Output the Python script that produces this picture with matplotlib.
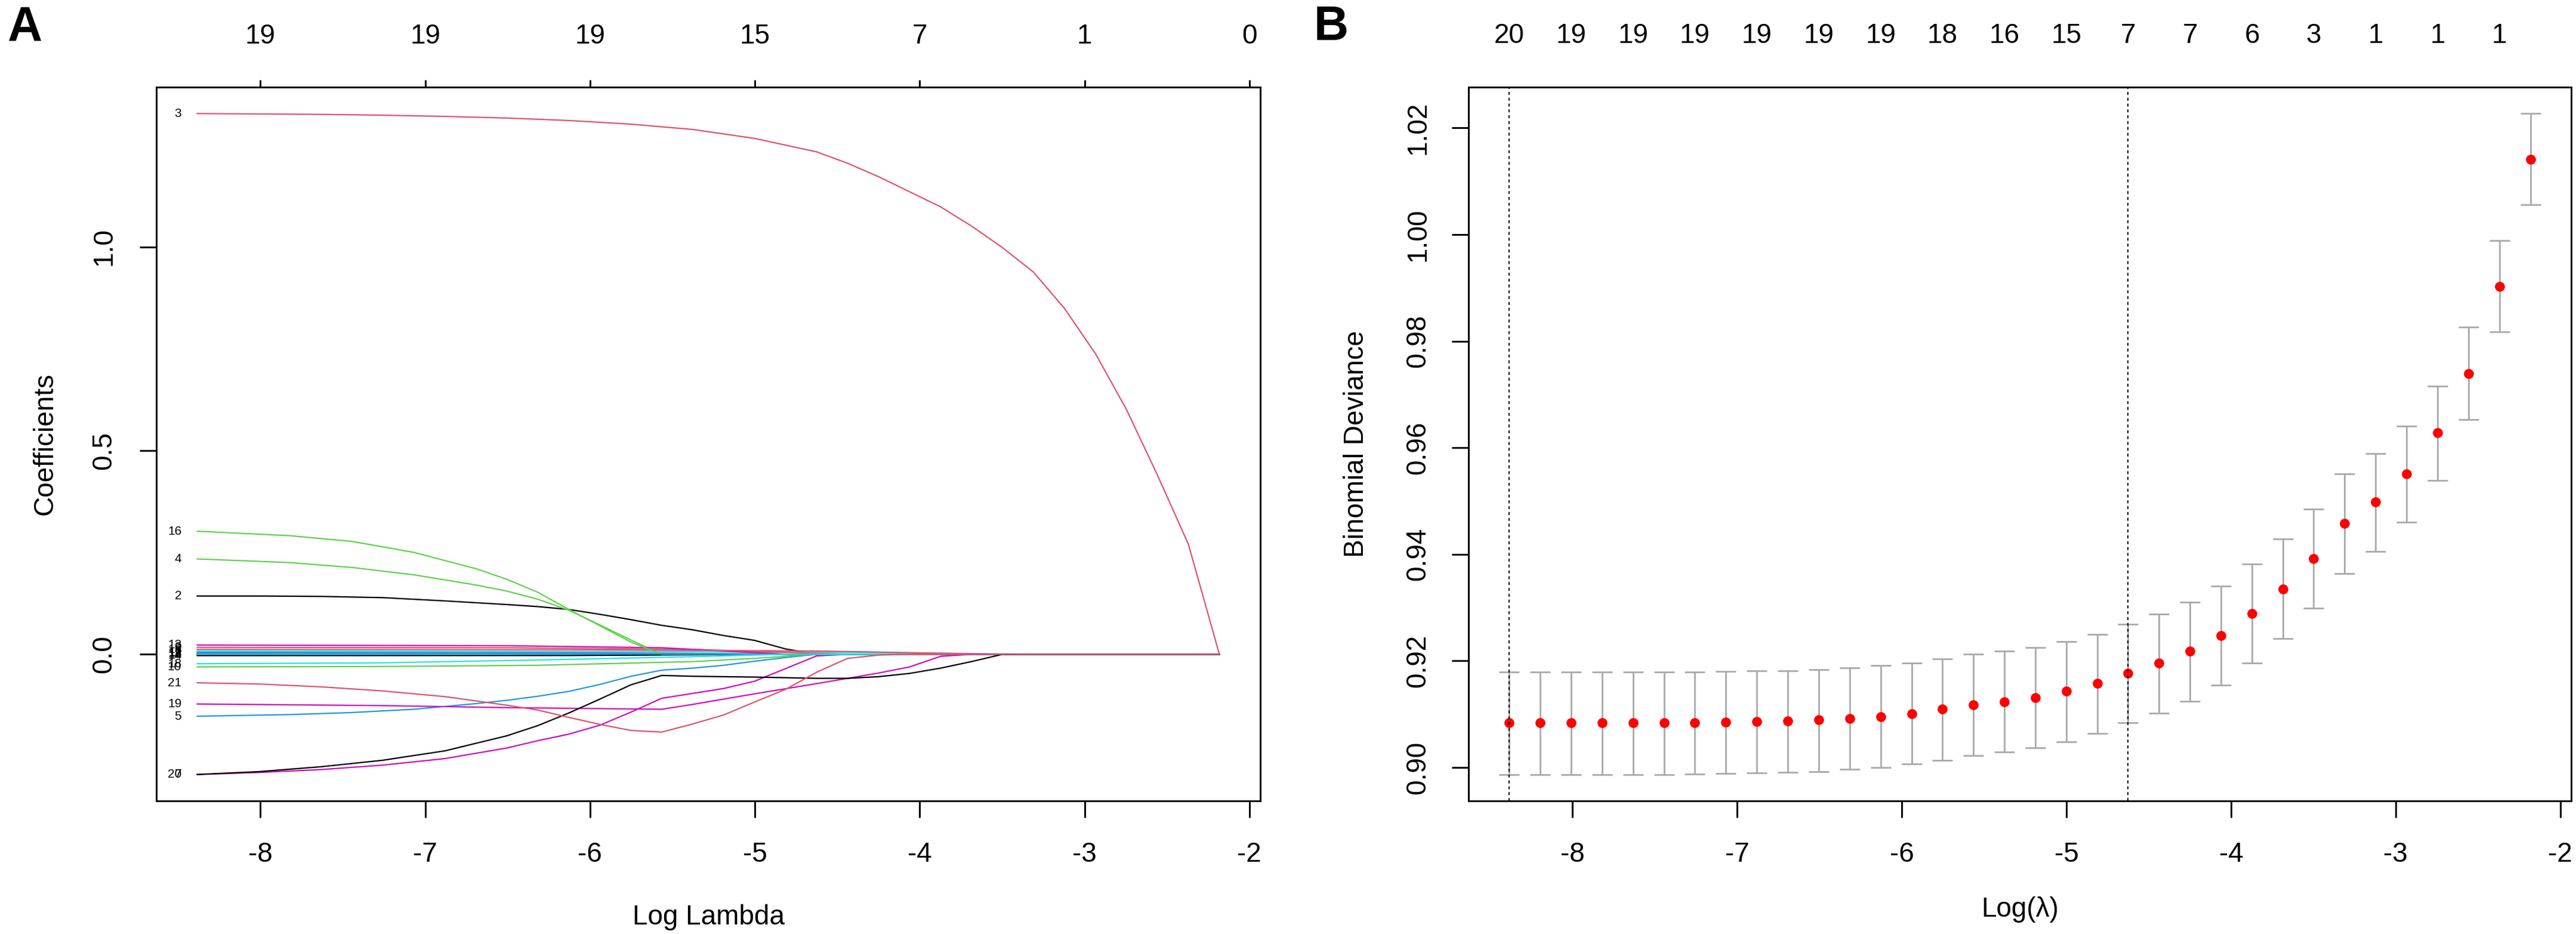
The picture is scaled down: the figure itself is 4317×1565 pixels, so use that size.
import matplotlib
matplotlib.use("Agg")
import matplotlib.pyplot as plt

plt.rcParams['font.family'] = ['Liberation Sans', 'DejaVu Sans']
plt.rcParams['axes.unicode_minus'] = False

# ---------------- data ----------------
log_lambda = [-8.383, -8.195, -8.007, -7.819, -7.631, -7.444, -7.256, -7.068,
              -6.880, -6.692, -6.504, -6.316, -6.128, -5.940, -5.752, -5.565,
              -5.377, -5.189, -5.001, -4.813, -4.625, -4.437, -4.249, -4.061,
              -3.873, -3.686, -3.498, -3.310, -3.122, -2.934, -2.746, -2.558,
              -2.370, -2.182]

cv_mean = [0.90836, 0.90836, 0.90836, 0.90836, 0.90836, 0.90836, 0.90845, 0.90854,
           0.90864, 0.90873, 0.90892, 0.90919, 0.90957, 0.91012, 0.91096, 0.91180,
           0.91235, 0.91310, 0.91430, 0.91579, 0.91765, 0.91960, 0.92183, 0.92480,
           0.92888, 0.93353, 0.93919, 0.94579, 0.94978, 0.95508, 0.96278, 0.97393,
           0.99028, 1.01414]
cv_upper = [0.91793, 0.91793, 0.91793, 0.91793, 0.91793, 0.91793, 0.91793, 0.91802,
            0.91811, 0.91820, 0.91839, 0.91876, 0.91913, 0.91960, 0.92043, 0.92127,
            0.92183, 0.92257, 0.92368, 0.92498, 0.92693, 0.92879, 0.93102, 0.93409,
            0.93817, 0.94291, 0.94848, 0.95508, 0.95888, 0.96409, 0.97161, 0.98266,
            0.99882, 1.02269]
cv_lower = [0.89870, 0.89870, 0.89870, 0.89870, 0.89870, 0.89870, 0.89879, 0.89889,
            0.89898, 0.89907, 0.89926, 0.89963, 0.90000, 0.90065, 0.90139, 0.90223,
            0.90297, 0.90372, 0.90483, 0.90641, 0.90836, 0.91022, 0.91245, 0.91551,
            0.91960, 0.92424, 0.92991, 0.93641, 0.94059, 0.94607, 0.95387, 0.96529,
            0.98173, 1.00560]

b_top_index = [0, 2, 4, 6, 8, 10, 12, 14, 16, 18, 20, 22, 24, 26, 28, 30, 32]
b_top_labels = ['20', '19', '19', '19', '19', '19', '19', '18', '16', '15',
                '7', '7', '6', '3', '1', '1', '1']
lambda_min_index = 0
lambda_1se_index = 20

x_ticks = [-8, -7, -6, -5, -4, -3, -2]
a_top_labels = ['19', '19', '19', '15', '7', '1', '0']
a_yticks = [0.0, 0.5, 1.0]
a_ytick_labels = ['0.0', '0.5', '1.0']
b_yticks = [0.90, 0.92, 0.94, 0.96, 0.98, 1.00, 1.02]
b_ytick_labels = ['0.90', '0.92', '0.94', '0.96', '0.98', '1.00', '1.02']

# coefficient paths: (lambda index, coefficient) vertices
path_v2 = [(0, 0.143), (2, 0.143), (4, 0.142), (6, 0.139), (8, 0.131), (10, 0.122),
           (11, 0.117), (12, 0.110), (13, 0.098), (14, 0.085), (15, 0.071), (16, 0.060),
           (17, 0.046), (18, 0.034), (19, 0.013), (20, 0.0), (33, 0.0)]
path_v3 = [(0, 1.327), (2, 1.326), (4, 1.325), (6, 1.323), (8, 1.320), (10, 1.316),
           (12, 1.310), (14, 1.301), (16, 1.288), (18, 1.266), (20, 1.233), (21, 1.205),
           (22, 1.172), (23, 1.135), (24, 1.098), (25, 1.051), (26, 0.998), (27, 0.938),
           (28, 0.849), (29, 0.738), (30, 0.601), (31, 0.440), (32, 0.270), (33, 0.0)]
path_v4 = [(0, 0.234), (3, 0.225), (5, 0.213), (7, 0.195), (9, 0.170), (10, 0.155),
           (11, 0.135), (12, 0.108), (13, 0.072), (14, 0.035), (15, 0.0), (33, 0.0)]
path_v5 = [(0, -0.152), (3, -0.148), (5, -0.143), (7, -0.135), (9, -0.121), (10, -0.113),
           (11, -0.103), (12, -0.091), (13, -0.074), (14, -0.054), (15, -0.039),
           (16, -0.034), (17, -0.027), (18, -0.017), (19, -0.008), (20, 0.0), (33, 0.0)]
path_v6 = [(0, 0.008), (10, 0.007), (16, 0.006), (22, 0.004), (27, 0.0), (33, 0.0)]
path_v7 = [(0, -0.295), (2, -0.290), (4, -0.283), (6, -0.272), (8, -0.256), (10, -0.230),
           (11, -0.212), (12, -0.196), (13, -0.174), (14, -0.142), (15, -0.108),
           (16, -0.096), (17, -0.084), (18, -0.066), (19, -0.035), (20, -0.004),
           (21, 0.0), (33, 0.0)]
path_v8 = [(0, 0.0007), (10, 0.0006), (16, 0.0), (33, 0.0)]
path_v9 = [(0, 0.017), (10, 0.016), (16, 0.012), (21, 0.0), (33, 0.0)]
path_v10 = [(0, -0.031), (6, -0.030), (11, -0.027), (16, -0.018), (18, -0.010),
            (20, 0.0), (33, 0.0)]
path_v11 = [(0, 0.0047), (12, 0.004), (20, 0.0), (33, 0.0)]
path_v12 = [(0, 0.0), (33, 0.0)]
path_v13 = [(0, 0.0227), (10, 0.021), (15, 0.016), (19, 0.0), (33, 0.0)]
path_v14 = [(0, -0.0032), (12, -0.003), (19, 0.0), (33, 0.0)]
path_v15 = [(0, 0.012), (12, 0.011), (20, 0.008), (26, 0.0), (33, 0.0)]
path_v16 = [(0, 0.302), (3, 0.291), (5, 0.277), (7, 0.250), (9, 0.210), (10, 0.184),
            (11, 0.152), (12, 0.110), (13, 0.070), (14, 0.030), (15, 0.0), (33, 0.0)]
path_v17 = [(0, 0.002), (10, 0.002), (18, 0.0), (33, 0.0)]
path_v18 = [(0, -0.0232), (6, -0.021), (11, -0.014), (16, -0.006), (19, 0.0), (33, 0.0)]
path_v19 = [(0, -0.122), (6, -0.126), (10, -0.131), (15, -0.135), (16, -0.123),
            (18, -0.097), (20, -0.072), (22, -0.046), (23, -0.031), (24, -0.005),
            (25, 0.0), (33, 0.0)]
path_v20 = [(0, -0.295), (2, -0.288), (4, -0.276), (6, -0.260), (8, -0.237), (10, -0.200),
            (11, -0.175), (12, -0.144), (13, -0.110), (14, -0.075), (15, -0.052),
            (16, -0.054), (18, -0.056), (20, -0.059), (21, -0.059), (22, -0.055),
            (23, -0.047), (24, -0.034), (25, -0.018), (26, 0.0), (33, 0.0)]
path_v21 = [(0, -0.070), (2, -0.073), (4, -0.080), (6, -0.090), (8, -0.104), (10, -0.125),
            (11, -0.137), (12, -0.155), (13, -0.172), (14, -0.187), (15, -0.191),
            (16, -0.171), (17, -0.149), (18, -0.117), (19, -0.086), (20, -0.044),
            (21, -0.010), (22, -0.002), (23, 0.0), (33, 0.0)]

paths = {2: path_v2, 3: path_v3, 4: path_v4, 5: path_v5, 6: path_v6, 7: path_v7,
         8: path_v8, 9: path_v9, 10: path_v10, 11: path_v11, 12: path_v12,
         13: path_v13, 14: path_v14, 15: path_v15, 16: path_v16, 17: path_v17,
         18: path_v18, 19: path_v19, 20: path_v20, 21: path_v21}

palette = ['#000000', '#DF536B', '#61D04F', '#2297E6', '#28E2E5', '#CD0BBC']

# ---------------- layout ----------------
W, H = 4317, 1565
fig = plt.figure(figsize=(W / 100, H / 100), dpi=100)
axA = fig.add_axes([262 / W, 1 - 1342 / H, 1850 / W, 1196 / H])
axB = fig.add_axes([2461 / W, 1 - 1342 / H, 1848 / W, 1196 / H])

FS = 33
SPW = 2.1


def r_range(lo, hi):
    r = hi - lo
    return lo - 0.04 * r, hi + 0.04 * r


xlim = r_range(min(log_lambda), max(log_lambda))

# ---------------- panel A ----------------
all_vals = [v for p in paths.values() for _, v in p]
for v in sorted(paths):
    pts = paths[v]
    xs = [log_lambda[i] for i, _ in pts]
    ys = [c for _, c in pts]
    axA.plot(xs, ys, color=palette[(v - 2) % 6], lw=1.6, solid_joinstyle='round')
for v in sorted(paths):
    pts = paths[v]
    axA.annotate(str(v), xy=(log_lambda[pts[0][0]], pts[0][1]), xytext=(-19, 0),
                 textcoords='offset points', ha='right', va='center', fontsize=15)

axA.set_xlim(*xlim)
axA.set_ylim(*r_range(min(all_vals), max(all_vals)))
axA.set_xticks(x_ticks)
axA.set_xticklabels([str(t) for t in x_ticks])
axA.set_yticks(a_yticks)
axA.set_yticklabels(a_ytick_labels, rotation=90, va='center')
axA.tick_params(axis='x', length=20, width=SPW, pad=29, labelsize=FS)
axA.tick_params(axis='y', length=20, width=SPW, pad=27, labelsize=FS)
secA = axA.secondary_xaxis('top')
secA.set_xticks(x_ticks, labels=a_top_labels)
secA.tick_params(length=8.6, width=SPW, pad=37, labelsize=FS)
secA.spines['top'].set_linewidth(SPW)
axA.set_xlabel('Log Lambda', fontsize=FS)
axA.xaxis.set_label_coords(0.5, -0.163)
axA.xaxis.label.set_va('center')
axA.set_ylabel('Coefficients', fontsize=FS)
axA.yaxis.set_label_coords(-0.101, 0.5)
axA.yaxis.label.set_va('center')

# ---------------- panel B ----------------
yerr = [[m - lo for m, lo in zip(cv_mean, cv_lower)],
        [up - m for m, up in zip(cv_mean, cv_upper)]]
axB.errorbar(log_lambda, cv_mean, yerr=yerr, fmt='none', ecolor='#A9A9A9',
             elinewidth=2.0, capsize=12.5, capthick=2.0, zorder=2)
axB.plot(log_lambda, cv_mean, 'o', color='red', ms=12, mec='red', mew=0, zorder=3)
for i in (lambda_min_index, lambda_1se_index):
    axB.axvline(log_lambda[i], color='black', lw=1.6, ls=(0, (2.2, 2.2)), zorder=4)

axB.set_xlim(*xlim)
axB.set_ylim(*r_range(min(cv_lower), max(cv_upper)))
axB.set_xticks(x_ticks)
axB.set_xticklabels([str(t) for t in x_ticks])
axB.set_yticks(b_yticks)
axB.set_yticklabels(b_ytick_labels, rotation=90, va='center')
axB.tick_params(axis='x', length=20, width=SPW, pad=29, labelsize=FS)
axB.tick_params(axis='y', length=20, width=SPW, pad=25, labelsize=FS)
secB = axB.secondary_xaxis('top')
secB.set_xticks([log_lambda[i] for i in b_top_index], labels=b_top_labels)
secB.tick_params(length=0, pad=46, labelsize=FS)
secB.spines['top'].set_linewidth(SPW)
axB.set_xlabel('Log(\u03bb)', fontsize=FS)
axB.xaxis.set_label_coords(0.5, -0.152)
axB.xaxis.label.set_va('center')
axB.set_ylabel('Binomial Deviance', fontsize=FS)
axB.yaxis.set_label_coords(-0.1017, 0.5)
axB.yaxis.label.set_va('center')

for ax in (axA, axB):
    for s in ax.spines.values():
        s.set_linewidth(SPW)

fig.text(13 / W, 1 - 67 / H, 'A', fontsize=58, fontweight='bold', ha='left', va='baseline')
fig.text(2202 / W, 1 - 67 / H, 'B', fontsize=58, fontweight='bold', ha='left', va='baseline')

fig.savefig('out.png', dpi=100, facecolor='white')
